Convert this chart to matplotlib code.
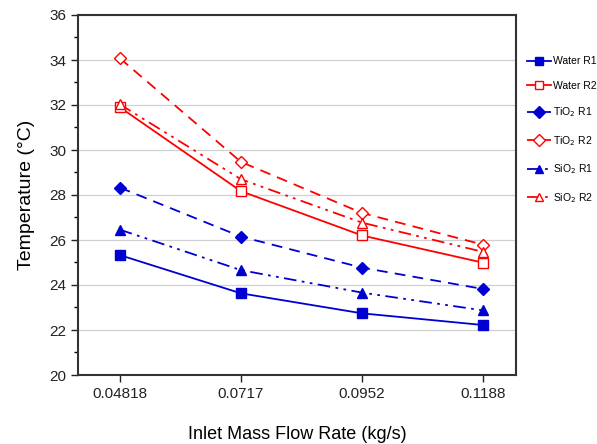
import matplotlib
matplotlib.use("Agg")
import matplotlib.pyplot as plt
from matplotlib.ticker import MultipleLocator

plt.rcParams['font.family'] = ['Liberation Sans', 'DejaVu Sans']

categories = ["0.04818", "0.0717", "0.0952", "0.1188"]
water_r1 = [25.33, 23.63, 22.74, 22.22]
water_r2 = [31.90, 28.17, 26.20, 24.99]
tio2_r1 = [28.33, 26.15, 24.77, 23.82]
tio2_r2 = [34.08, 29.47, 27.20, 25.79]
sio2_r1 = [26.46, 24.66, 23.66, 22.87]
sio2_r2 = [32.03, 28.70, 26.77, 25.47]

BLUE = '#0000D0'
RED = '#FF0000'
dashdotdot = (0, (7, 3, 1.5, 3, 1.5, 3))
dashed = (0, (6, 4))

series = [
    ("Water R1", water_r1, BLUE, '-', 's', True),
    ("Water R2", water_r2, RED, '-', 's', False),
    ("TiO$_2$ R1", tio2_r1, BLUE, dashed, 'D', True),
    ("TiO$_2$ R2", tio2_r2, RED, dashed, 'D', False),
    ("SiO$_2$ R1", sio2_r1, BLUE, dashdotdot, '^', True),
    ("SiO$_2$ R2", sio2_r2, RED, dashdotdot, '^', False),
]

fig = plt.figure(figsize=(5.97, 4.44), dpi=100)
ax = fig.add_axes([78/597, 1 - 375/444, (516-78)/597, (375-15)/444])

x = list(range(len(categories)))
for label, vals, col, ls, mk, filled in series:
    ax.plot(x, vals, color=col, linestyle=ls, linewidth=1.3, marker=mk,
            markersize=7 if mk != 'D' else 6.5,
            markerfacecolor=col if filled else 'white',
            markeredgecolor=col, markeredgewidth=1.0, label=label)

ax.set_xlim(-0.345, 3.27)
ax.set_ylim(20, 36)
ax.set_xticks(x)
ax.set_xticklabels(categories)
ax.yaxis.set_major_locator(MultipleLocator(2))
ax.yaxis.set_minor_locator(MultipleLocator(1))
ax.grid(axis='y', which='major', color='#d0d0d0', linewidth=0.9)
ax.set_axisbelow(True)
ax.tick_params(axis='both', which='major', direction='out', length=5, width=1,
               labelsize=11, colors='#222222')
ax.tick_params(axis='y', which='minor', direction='out', length=3, width=1)
for s in ax.spines.values():
    s.set_linewidth(1.5)
    s.set_color('#333333')

ax.set_xlabel("Inlet Mass Flow Rate (kg/s)", fontsize=13, labelpad=18)
ax.set_ylabel("Temperature (°C)", fontsize=14, labelpad=10)

leg = ax.legend(loc='upper left', bbox_to_anchor=(1.008, 0.905), frameon=False,
                fontsize=7.5, handlelength=2.3, handletextpad=0.25,
                labelspacing=1.4, borderaxespad=0.3, markerscale=0.9)

fig.savefig("out.png", dpi=100)
